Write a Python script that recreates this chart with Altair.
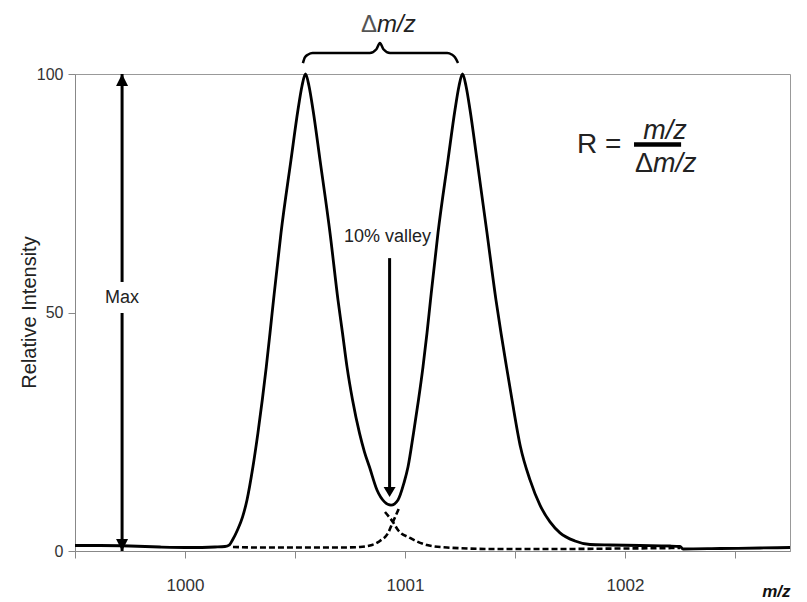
import altair as alt
import pandas as pd

FONT = "Liberation Sans"

# ---- data (m/z, relative intensity) ----
solid_mz = [999.500, 999.614, 999.750, 999.886, 1000.023, 1000.136, 1000.182,
            1000.2023, 1000.2159, 1000.2386, 1000.2614, 1000.2818, 1000.3086, 1000.3314,
            1000.3514, 1000.3695, 1000.3864, 1000.4023, 1000.4364, 1000.4818, 1000.5136,
            1000.5318, 1000.5477,
            1000.5636, 1000.5818, 1000.6136, 1000.6591, 1000.6955, 1000.7159, 1000.7364,
            1000.7614, 1000.7932, 1000.8159, 1000.8386, 1000.8727, 1000.9068, 1000.9364,
            1000.9682, 1000.9955, 1001.0136, 1001.0386, 1001.0614, 1001.0818, 1001.1000,
            1001.1159, 1001.1500, 1001.1955, 1001.2273, 1001.2455, 1001.2614,
            1001.2773, 1001.2955, 1001.3273, 1001.3727, 1001.4136, 1001.4364, 1001.4614,
            1001.4864, 1001.5250, 1001.5682, 1001.6136, 1001.6591, 1001.7045, 1001.7727,
            1001.8409, 1001.932, 1002.068, 1002.205, 1002.250, 1002.264, 1002.432,
            1002.614, 1002.750]
solid_int = [1.15, 1.15, 1.05, 0.84, 0.73, 0.84, 0.94,
             1.3, 2.3, 4.4, 7.1, 10.7, 17.6, 24.7,
             31.7, 38.6, 45.7, 52.6, 66.7, 82.0, 92.5,
             97.5, 100.0,
             97.5, 92.5, 82.0, 66.7, 52.6, 45.7, 38.6,
             31.7, 24.7, 20.75, 17.6, 12.8, 10.3, 9.6,
             10.7, 14.3, 17.6, 24.7, 31.7, 38.6, 45.7,
             52.6, 66.7, 82.0, 92.5, 97.5, 100.0,
             97.5, 92.5, 82.0, 66.7, 52.6, 45.7, 38.6,
             31.7, 21.8, 14.9, 9.6, 6.1, 3.8, 2.1,
             1.36, 1.26, 1.15, 1.05, 0.94, 0.42, 0.52,
             0.63, 0.73]

dashA_mz = [1000.218, 1000.341, 1000.523, 1000.705, 1000.795, 1000.850, 1000.886, 1000.923,
            1000.945, 1000.973]
dashA_int = [0.84, 0.73, 0.73, 0.73, 0.84, 1.26, 2.10, 3.77, 6.08, 9.01]

dashB_mz = [1000.909, 1000.945, 1000.968, 1001.023, 1001.100, 1001.191, 1001.400, 1001.705,
            1001.977, 1002.250]
dashB_int = [8.18, 6.08, 4.40, 2.73, 1.26, 0.73, 0.42, 0.42, 0.52, 0.63]

# brace above the peaks (Δm/z)
brace_mz = [1000.536, 1000.545, 1000.560, 1000.580, 1000.840, 1000.870, 1000.886,
            1000.902, 1000.932, 1001.192, 1001.212, 1001.227, 1001.241]
brace_int = [102.3, 103.5, 104.1, 104.4, 104.4, 105.2, 106.5,
             105.2, 104.4, 104.4, 104.1, 103.5, 102.3]

# arrows: vertical segments (x, from, to)
seg_mz = [999.714, 999.714, 1000.93]
seg_from = [0.0, 56.4, 61.4]
seg_to = [49.9, 100.0, 12.0]

x_domain = [999.5, 1002.75]
y_domain = [0, 100]
x_ticks = [999.5, 1000, 1000.5, 1001, 1001.5, 1002, 1002.5]
y_ticks = [0, 50, 100]

xaxis = alt.Axis(values=x_ticks,
                 labelExpr="datum.value % 1 == 0 ? format(datum.value, 'd') : ''",
                 grid=False, tickSize=7, tickColor="#888", domainColor="#888",
                 labelFont=FONT, labelFontSize=17, labelColor="#333", labelPadding=19,
                 labelFlush=False, labelOverlap=False,
                 title="m/z", titleFont=FONT, titleFontSize=17, titleFontStyle="italic",
                 titleFontWeight="bold", titleColor="#111", titleX=715, titleY=45,
                 titleAlign="right", titleBaseline="alphabetic", titleAnchor="end")
yaxis = alt.Axis(values=y_ticks, grid=False, tickSize=7, tickColor="#888", domainColor="#888",
                 labelFont=FONT, labelFontSize=16, labelColor="#333", labelPadding=5,
                 title="Relative Intensity", titleFont=FONT, titleFontSize=20,
                 titleFontWeight="normal", titleColor="#222", titleX=-46, titleY=238,
                 titleAngle=-90, titleAlign="center", titleBaseline="middle", titleAnchor="middle")

xs = alt.Scale(domain=x_domain, nice=False, zero=False)
ys = alt.Scale(domain=y_domain, nice=False, zero=False)


def X(f="mz"):
    return alt.X(f"{f}:Q", scale=xs, axis=xaxis)


def Y(f="I"):
    return alt.Y(f"{f}:Q", scale=ys, axis=yaxis)


solid_df = pd.DataFrame({"mz": solid_mz, "I": solid_int})
dashA_df = pd.DataFrame({"mz": dashA_mz, "I": dashA_int})
dashB_df = pd.DataFrame({"mz": dashB_mz, "I": dashB_int})
brace_df = pd.DataFrame({"mz": brace_mz, "I": brace_int})
seg_df = pd.DataFrame({"mz": seg_mz, "I": seg_from, "I2": seg_to})

solid = alt.Chart(solid_df).mark_line(color="black", strokeWidth=2.8,
                                      interpolate="monotone").encode(x=X(), y=Y())
dashA = alt.Chart(dashA_df).mark_line(color="black", strokeWidth=2.6, strokeDash=[6, 3],
                                      interpolate="monotone").encode(x=X(), y=Y())
dashB = alt.Chart(dashB_df).mark_line(color="black", strokeWidth=2.6, strokeDash=[6, 3],
                                      interpolate="monotone").encode(x=X(), y=Y())
brace = alt.Chart(brace_df).mark_line(color="black", strokeWidth=2.5,
                                      interpolate="monotone").encode(x=X(), y=Y())
segs = alt.Chart(seg_df).mark_rule(color="black", strokeWidth=3).encode(
    x=X(), y=Y(), y2="I2:Q")

up_df = pd.DataFrame({"mz": [999.714], "I": [100.0]})
down_df = pd.DataFrame({"mz": [999.714], "I": [0.0]})
vdown_df = pd.DataFrame({"mz": [1000.93], "I": [11.3]})
head_up = alt.Chart(up_df).mark_point(shape="M0,0L-0.5,1L0.5,1Z", size=576, filled=True,
                                      color="black", opacity=1, strokeWidth=0).encode(x=X(), y=Y())
head_down = alt.Chart(down_df).mark_point(shape="M0,0L-0.5,-1L0.5,-1Z", size=576, filled=True,
                                          color="black", opacity=1, strokeWidth=0).encode(x=X(), y=Y())
head_v = alt.Chart(vdown_df).mark_point(shape="M0,0L-0.6,-1L0.6,-1Z", size=400, filled=True,
                                        color="black", opacity=1, strokeWidth=0).encode(x=X(), y=Y())

# fraction bar of R = m/z / Δm/z
bar_df = pd.DataFrame({"mz": [1002.041], "mz2": [1002.255], "I": [85.2]})
fbar = alt.Chart(bar_df).mark_rule(color="black", strokeWidth=4.5).encode(
    x=X(), x2="mz2:Q", y=Y())


def label(text, mz, inten, size, align="center", baseline="alphabetic", style="normal",
          color="#222"):
    df = pd.DataFrame({"mz": [mz], "I": [inten], "t": [text]})
    return alt.Chart(df).mark_text(font=FONT, fontSize=size, align=align, baseline=baseline,
                                   fontStyle=style, color=color).encode(
        x=X(), y=Y(), text="t:N")


texts = [
    label("Max", 999.714, 53.0, 18, baseline="middle"),
    label("10% valley", 1000.92, 64.8, 18),
    label("\u0394", 1000.873, 108.8, 24, align="right", color="#555"),
    label("m/z", 1000.873, 108.8, 24, align="left", style="italic"),
    label("R =", 1001.782, 83.4, 28, align="left"),
    label("m/z", 1002.182, 86.4, 27, style="italic"),
    label("\u0394", 1002.127, 79.4, 27, align="right"),
    label("m/z", 1002.127, 79.4, 27, align="left", style="italic"),
]

chart = alt.layer(solid, dashA, dashB, brace, segs, head_up, head_down, head_v, fbar,
                  *texts).properties(
    width=715, height=477,
    padding={"left": 67, "top": 66, "right": 8, "bottom": 48},
    autosize=alt.AutoSizeParams(type="none"),
    background="white",
).configure_view(stroke="#999", strokeWidth=1)

chart.save("out.html", embed_options={"renderer": "svg", "actions": False})
